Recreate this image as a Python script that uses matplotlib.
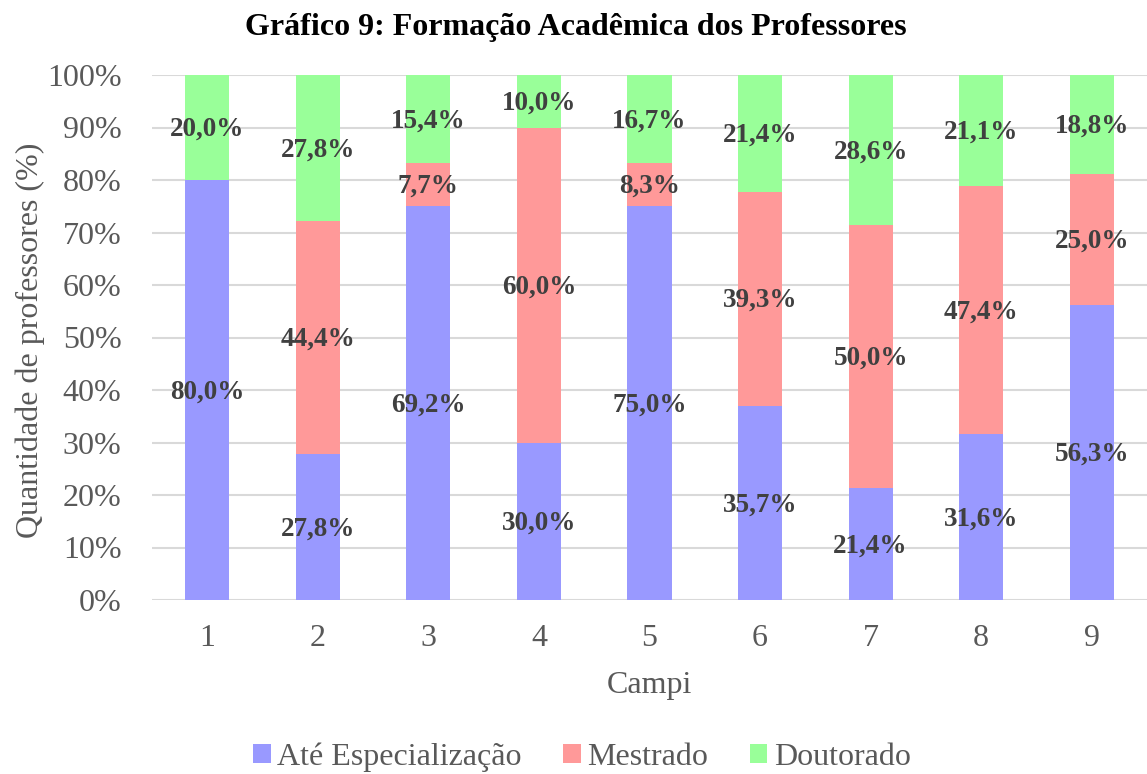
import matplotlib
matplotlib.use("Agg")
import matplotlib.pyplot as plt
import matplotlib.transforms as mtransforms
import numpy as np

campi = ["1", "2", "3", "4", "5", "6", "7", "8", "9"]
ate_especializacao = [80.0, 27.8, 69.2, 30.0, 75.0, 35.7, 21.4, 31.6, 56.3]
mestrado = [0.0, 44.4, 7.7, 60.0, 8.3, 39.3, 50.0, 47.4, 25.0]
doutorado = [20.0, 27.8, 15.4, 10.0, 16.7, 21.4, 28.6, 21.1, 18.8]
series_names = ["Até Especialização", "Mestrado", "Doutorado"]
yticks = [0, 10, 20, 30, 40, 50, 60, 70, 80, 90, 100]

colors = ["#9999FF", "#FF9999", "#99FF99"]
plt.rcParams['font.family'] = ['Liberation Serif', 'DejaVu Serif']

W, H = 1147, 774
fig = plt.figure(figsize=(W / 100, H / 100), dpi=100)
ax = fig.add_axes([152 / W, 1 - 600 / H, (W - 152) / W, 525 / H])

data = np.array([ate_especializacao, mestrado, doutorado])
totals = data.sum(axis=0)
norm = data / totals * 100
x = np.arange(1, len(campi) + 1)
label_tr = mtransforms.offset_copy(ax.transData, fig=fig, x=0, y=-1.5, units="points")
bottom = np.zeros(len(campi))
for i, name in enumerate(series_names):
    ax.bar(x, norm[i], 0.4, bottom=bottom, color=colors[i], label=name, zorder=2)
    for j in range(len(campi)):
        if data[i, j] > 0:
            ax.text(x[j], bottom[j] + norm[i, j] / 2,
                    f"{data[i, j]:.1f}%".replace(".", ","),
                    ha="center", va="center", fontsize=19.5, fontweight="bold",
                    color="#404040", zorder=3, transform=label_tr)
    bottom += norm[i]

ax.set_xlim(0.5, 9.5)
ax.set_ylim(0, 100)
ax.set_yticks(yticks)
ax.set_yticklabels([f"{t}%" for t in yticks])
ax.set_xticks(x)
ax.set_xticklabels(campi)
ax.tick_params(axis="both", length=0, labelsize=23, labelcolor="#595959")
ax.tick_params(axis="x", pad=17)
ax.tick_params(axis="y", pad=22)
ax.grid(axis="y", color="#D9D9D9", linewidth=1.5, zorder=0)
for s in ax.spines.values():
    s.set_visible(False)

ax.set_xlabel("Campi", fontsize=23, color="#595959", va="center")
ax.xaxis.set_label_coords(0.5, (600 - 685) / 525)
ax.set_ylabel("Quantidade de professores (%)", fontsize=23, color="#595959", va="center")
ax.yaxis.set_label_coords((30 - 152) / 995, (600 - 340) / 525)
fig.text(576 / W, 1 - 27 / H, "Gráfico 9: Formação Acadêmica dos Professores",
         ha="center", va="center", fontsize=23, fontweight="bold", color="black")

fig.legend(loc="center", bbox_to_anchor=(582 / W, 1 - 757 / H), ncol=3,
           frameon=False, fontsize=23, labelcolor="#595959", handlelength=0.55,
           handleheight=0.55, handletextpad=0.2, columnspacing=1.3)

fig.savefig("out.png", dpi=100)
